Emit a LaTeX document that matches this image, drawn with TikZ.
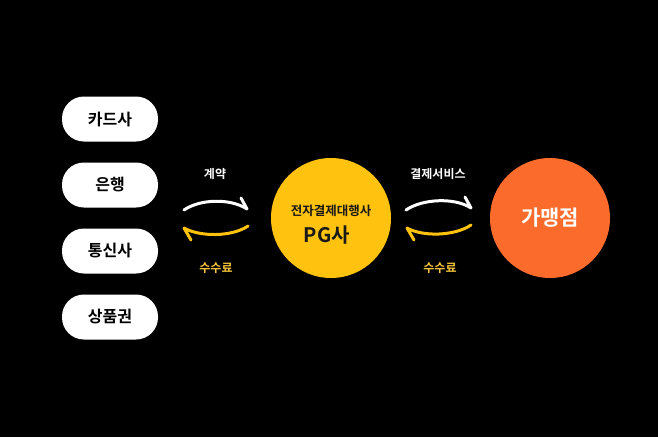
\documentclass[tikz,border=0pt]{standalone}
\usepackage{fontspec}
\newfontfamily\krb{Noto Sans CJK KR Bold}
\newfontfamily\kr{Noto Sans CJK KR}
\definecolor{pgyellow}{HTML}{FFC20E}
\definecolor{shoporange}{HTML}{FA6B2C}
\definecolor{lblyellow}{HTML}{F7C33C}
\begin{document}
\begin{tikzpicture}[x=1pt,y=-1pt,
  pill/.style={draw=none,fill=white,rounded corners=22pt,minimum width=96pt,minimum height=45pt,font=\krb\fontsize{16}{16}\selectfont,text=black,inner sep=0pt},
  lbl/.style={font=\krb\fontsize{12}{12}\selectfont,inner sep=0pt},
  flow/.style={line width=3pt,line cap=round,line join=round}]
\fill[black] (0,0) rectangle (658,437);
\useasboundingbox (0,0) rectangle (658,437);
\node[pill] (card) at (110,119) {카드사};
\node[pill] (bank) at (110,185) {은행};
\node[pill] (tel) at (110,251) {통신사};
\node[pill] (gift) at (110,317) {상품권};
\node[circle,fill=pgyellow,minimum size=120pt,inner sep=0pt] (pg) at (331,218) {};
\node[font=\krb\fontsize{12.5}{12.5}\selectfont,text=black!90,inner sep=0pt] (pgt1) at (331,211) {전자결제대행사};
\node[font=\krb\fontsize{20}{20}\selectfont,text=black!90,inner sep=0pt] (pgt2) at (327,235) {PG사};
\node[circle,fill=shoporange,minimum size=120pt,inner sep=0pt,text=white,font=\krb\fontsize{21}{21}\selectfont] (shop) at (550,218) {가맹점};
\node[lbl,text=white] (c1) at (215,174) {계약};
\node[lbl,text=lblyellow] (f1) at (216,268) {수수료};
\node[lbl,text=white] (c2) at (438,174) {결제서비스};
\node[lbl,text=lblyellow] (f2) at (440,268) {수수료};
% arrows left
\coordinate (w1s) at (184,210); \coordinate (w1e) at (247,209); \coordinate (w1b) at (241,198);
\draw[flow,white] (w1s) .. controls (200,199) and (230,198) .. (w1e) -- (w1b);
\coordinate (y1s) at (248,226); \coordinate (y1e) at (184,228); \coordinate (y1b) at (191,240);
\draw[flow,pgyellow] (y1s) .. controls (232,237) and (200,237) .. (y1e) -- (y1b);
% arrows right
\coordinate (w2s) at (406,210); \coordinate (w2e) at (471,208); \coordinate (w2b) at (465,197);
\draw[flow,white] (w2s) .. controls (422,199) and (454,197) .. (w2e) -- (w2b);
\coordinate (y2s) at (471,225); \coordinate (y2e) at (407,228); \coordinate (y2b) at (414,240);
\draw[flow,pgyellow] (y2s) .. controls (455,236) and (423,237) .. (y2e) -- (y2b);
\end{tikzpicture}
\end{document}
